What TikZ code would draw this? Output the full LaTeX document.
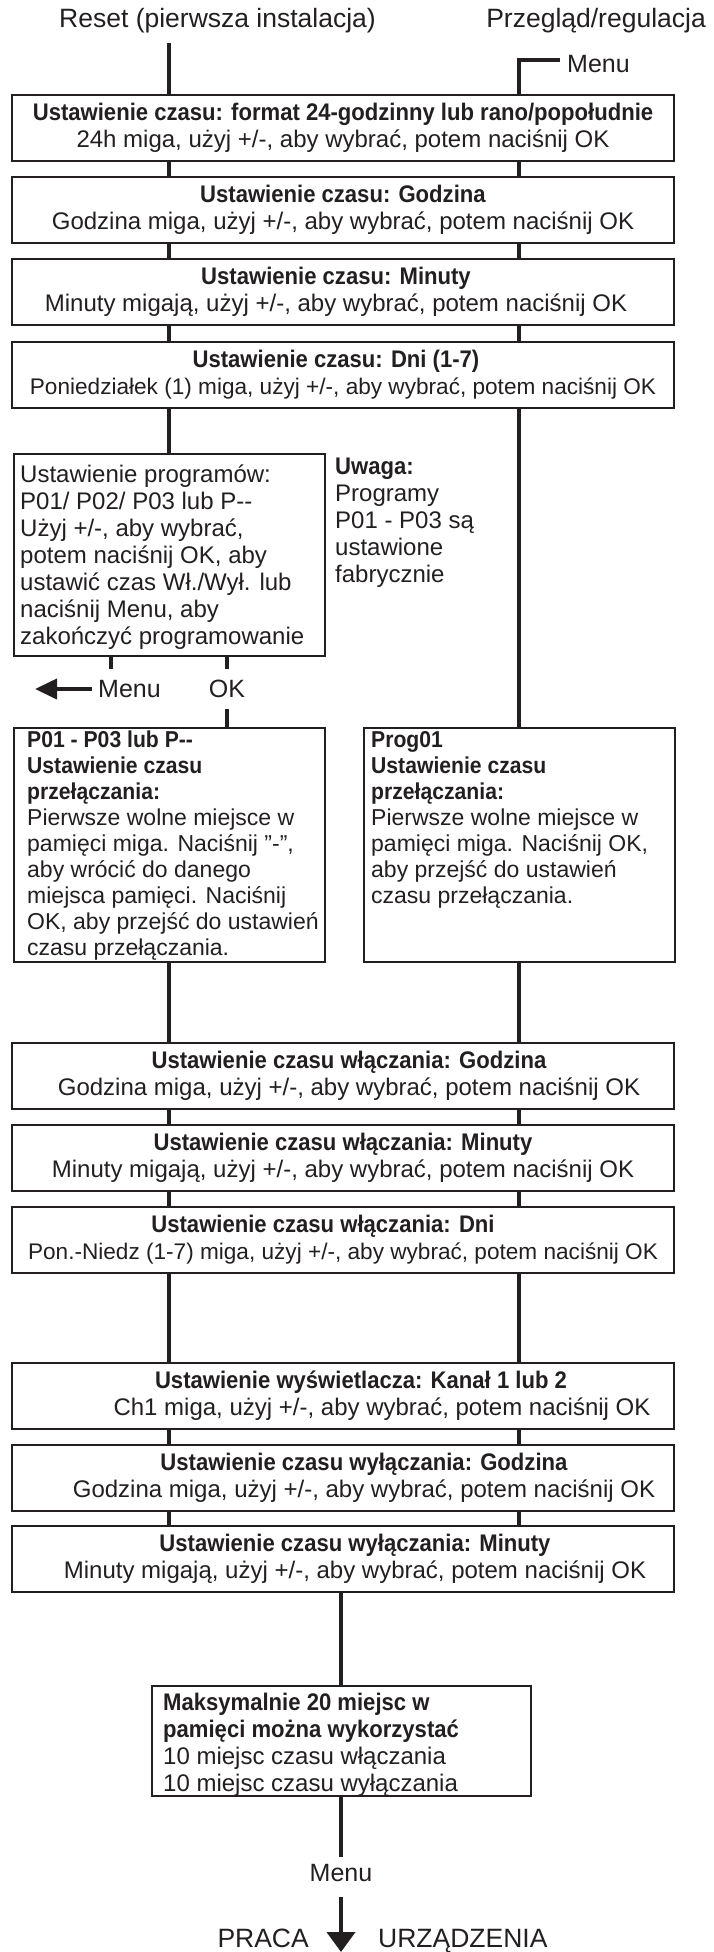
\documentclass[tikz,border=0pt]{standalone}
\usepackage{fontspec}
\setmainfont{Liberation Sans}[BoldFeatures={FakeStretch=0.92}]
\usepackage{tikz}
\usetikzlibrary{calc, arrows.meta, positioning}
\definecolor{ink}{RGB}{35,31,32}

\begin{document}
\begin{tikzpicture}[x=1pt, y=1pt,
		box/.style = {draw=ink, line width=2pt, fill=white, text=ink, minimum width=662pt, minimum height=66pt, inner xsep=4pt, inner ysep=0pt, align=center, anchor=north, font=\fontsize{24}{27}\selectfont},
		frame/.style = {draw=ink, line width=2pt, fill=white, anchor=north west, inner sep=0pt},
		txt/.style = {anchor=north west, inner sep=0pt, align=left, text=ink, font=\fontsize{24}{27}\selectfont},
		lbl/.style = {inner sep=0pt, text=ink, font=\fontsize{25}{30}\selectfont},
		big/.style = {font=\fontsize{26.5}{30}\selectfont},
		link/.style = {draw=ink, line width=4pt}]
			\useasboundingbox (0,0) rectangle (713,-1952);
			
			\coordinate (L) at (169,0);
			\coordinate (R) at (519,0);
			\coordinate (C) at (341,0);
			
			% two ways in
			\node [lbl, big, anchor=west] (reset) at (59,-21) {Reset (pierwsza instalacja)};
			\node [lbl, big, anchor=east] (review) at (706,-21) {Przegląd/regulacja};
			\node [lbl, anchor=west] (menuTop) at (567,-64) {Menu};
			\coordinate (resetEnd) at (169,-43);
			
			% clock
			\node [box] (set24) at (343,-94) {\textbf{Ustawienie czasu: format 24-godzinny lub rano/popołudnie}\\24h miga, użyj +/-, aby wybrać, potem naciśnij OK};
			\node [box] (setH) at (343,-176) {\textbf{Ustawienie czasu: Godzina}\\Godzina miga, użyj +/-, aby wybrać, potem naciśnij OK};
			\node [box] (setM) at (343,-258) {\hspace*{-14pt}\textbf{Ustawienie czasu: Minuty}\\\hspace*{-14pt}Minuty migają, użyj +/-, aby wybrać, potem naciśnij OK};
			\node [box] (setD) at (343,-341) {\hspace*{-14pt}\textbf{Ustawienie czasu: Dni (1-7)}\\{\fontsize{22.6}{27}\selectfont Poniedziałek (1) miga, użyj +/-, aby wybrać, potem naciśnij OK}};
			
			% programs
			\node [frame, minimum width=311pt, minimum height=202pt] (progs) at (13,-453) {};
			\node [txt] (progsTxt) at ($(progs.north west)+(7,-12)$) {Ustawienie programów:\\P01/ P02/ P03 lub P-{}-\\Użyj +/-, aby wybrać,\\potem naciśnij OK, aby\\ustawić czas Wł./Wył. lub\\naciśnij Menu, aby\\zakończyć programowanie};
			\node [txt] (note) at (335,-458) {\textbf{Uwaga:}\\Programy\\P01 - P03 są\\ustawione\\fabrycznie};
			
			\node [lbl] (menuBack) at (129.5,-689) {Menu};
			\node [lbl] (ok) at (227,-689) {OK};
			\coordinate (stubM) at (111,-669);
			\coordinate (backEnd) at (35,-689);
			
			\node [frame, minimum width=311pt, minimum height=234pt] (p01) at (13,-727) {};
			\node [txt, font=\fontsize{23}{26}\selectfont] (p01Txt) at ($(p01.north west)+(14,-4)$) {\textbf{P01 - P03 lub P-{}-}\\\textbf{Ustawienie czasu}\\\textbf{przełączania:}\\Pierwsze wolne miejsce w\\pamięci miga. Naciśnij "-",\\aby wrócić do danego\\miejsca pamięci. Naciśnij\\OK, aby przejść do ustawień\\czasu przełączania.};
			\node [frame, minimum width=311pt, minimum height=234pt] (prog) at (363,-727) {};
			\node [txt, font=\fontsize{23}{26}\selectfont] (progTxt) at ($(prog.north west)+(8,-4)$) {\textbf{Prog01}\\\textbf{Ustawienie czasu}\\\textbf{przełączania:}\\Pierwsze wolne miejsce w\\pamięci miga. Naciśnij OK,\\aby przejść do ustawień\\czasu przełączania.};
			
			% switch on / display / switch off
			\node [box] (onH) at (343,-1042) {\hspace*{12pt}\textbf{Ustawienie czasu włączania: Godzina}\\\hspace*{12pt}Godzina miga, użyj +/-, aby wybrać, potem naciśnij OK};
			\node [box] (onM) at (343,-1124) {\textbf{Ustawienie czasu włączania: Minuty}\\Minuty migają, użyj +/-, aby wybrać, potem naciśnij OK};
			\node [box] (onD) at (343,-1206) {\hspace*{-40pt}\textbf{Ustawienie czasu włączania: Dni}\\{\fontsize{22.6}{27}\selectfont Pon.-Niedz (1-7) miga, użyj +/-, aby wybrać, potem naciśnij OK}};
			\node [box] (disp) at (343,-1362) {\hspace*{36pt}\textbf{Ustawienie wyświetlacza: Kanał 1 lub 2}\\\hspace*{78pt}Ch1 miga, użyj +/-, aby wybrać, potem naciśnij OK};
			\node [box] (offH) at (343,-1444) {\hspace*{42pt}\textbf{Ustawienie czasu wyłączania: Godzina}\\\hspace*{42pt}Godzina miga, użyj +/-, aby wybrać, potem naciśnij OK};
			\node [box] (offM) at (343,-1525) {\hspace*{24pt}\textbf{Ustawienie czasu wyłączania: Minuty}\\\hspace*{24pt}Minuty migają, użyj +/-, aby wybrać, potem naciśnij OK};
			
			\node [frame, minimum width=379pt, minimum height=110pt] (max) at (151,-1685) {};
			\node [txt] (maxTxt) at ($(max.north west)+(12,-8)$) {\textbf{Maksymalnie 20 miejsc w}\\\textbf{pamięci można wykorzystać}\\10 miejsc czasu włączania\\10 miejsc czasu wyłączania};
			
			\node [lbl] (menuEnd) at (341,-1873) {Menu};
			\node [lbl, big, anchor=base east] (praca) at (309,-1947) {PRACA};
			\node [lbl, big, anchor=base west] (urz) at (378,-1947) {URZĄDZENIA};
			\coordinate (runEnd) at (341,-1952);
			
			\begin{scope}[link]
			\draw (resetEnd) -- (set24.north -| L);
			\draw ([xshift=-7pt, yshift=4pt]menuTop.west) -| (set24.north -| R);
			\foreach \a/\b in {set24/setH, setH/setM, setM/setD, onH/onM, onM/onD, onD/disp, disp/offH, offH/offM}
			{
				\draw (\a.south -| L) -- (\b.north -| L);
				\draw (\a.south -| R) -- (\b.north -| R);
			}
			\draw (setD.south -| L) -- (progs.north -| L);
			\draw (setD.south -| R) -- (prog.north -| R);
			\draw (progs.south -| stubM) -- (stubM);
			\draw (progs.south -| ok) -- ([yshift=11pt]ok.north);
			\draw ([yshift=-11pt]ok.south) -- (p01.north -| ok);
			\draw (p01.south -| L) -- (onH.north -| L);
			\draw (prog.south -| R) -- (onH.north -| R);
			\draw (offM.south -| C) -- (max.north -| C);
			\draw (max.south -| C) -- ([yshift=7pt]menuEnd.north);
			\end{scope}
			
			\draw [link, -{Triangle[length=22pt, width=20pt]}] ([xshift=-6pt]menuBack.west) -- (backEnd);
			\draw [link, -{Triangle[length=20pt, width=28pt]}] ([yshift=-15pt]menuEnd.south) -- (runEnd);
		\end{tikzpicture}
\end{document}
